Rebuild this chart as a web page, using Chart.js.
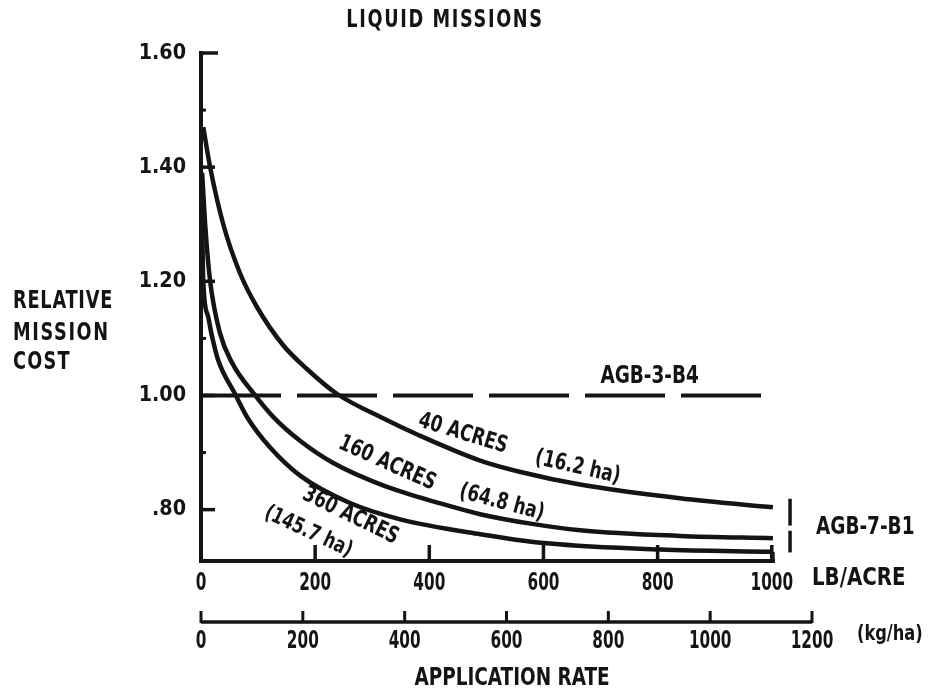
<!DOCTYPE html>
<html>
<head>
<meta charset="utf-8">
<script src="https://cdn.jsdelivr.net/npm/chart.js@4.4.1/dist/chart.umd.min.js"></script>
<style>
  html, body { margin: 0; background: #fff; }
</style>
</head>
<body>
<canvas id="chart" width="934" height="697"></canvas>
<script>
// ticks
const yTickValues = [0.80, 1.00, 1.20, 1.40, 1.60];
const yTickLabels = ['.80', '1.00', '1.20', '1.40', '1.60'];
const yMinorTicks = [0.90, 1.10, 1.30, 1.50];
const lbTicks = [0, 200, 400, 600, 800, 1000];
const kgTicks = [0, 200, 400, 600, 800, 1000, 1200];
const kgPerLb = 1.121;

// relative mission cost vs application rate (lb/acre)
const rate40 = [4, 16, 39, 68, 98, 144, 186, 238, 319, 378, 489, 560, 664, 839, 1002];
const cost40 = [1.470, 1.400, 1.300, 1.215, 1.155, 1.088, 1.046, 1.003, 0.960, 0.932, 0.886, 0.866, 0.844, 0.820, 0.804];
const rate160 = [2, 8, 16, 33, 54, 95, 126, 173, 231, 320, 419, 489, 580, 664, 839, 1002];
const cost160 = [1.390, 1.290, 1.200, 1.110, 1.058, 1.000, 0.963, 0.921, 0.882, 0.842, 0.811, 0.792, 0.775, 0.764, 0.754, 0.750];
const rate360 = [1, 4, 12, 19, 30, 60, 82, 120, 173, 260, 349, 489, 606, 804, 1002];
const cost360 = [1.390, 1.200, 1.140, 1.105, 1.062, 1.002, 0.960, 0.910, 0.860, 0.812, 0.783, 0.757, 0.741, 0.730, 0.726];
const agbRate = [0, 990];
const agbCost = [1.00, 1.00];

const ink = '#141414';
const FONT = "'DejaVu Sans Condensed', 'DejaVu Sans', sans-serif";

const curve = (label, xs, ys, extra) => ({
    label,
    data: xs.map((x, i) => ({ x, y: ys[i] })),
    borderColor: ink, borderWidth: 4.5, pointRadius: 0, fill: false,
    cubicInterpolationMode: 'monotone',
    ...extra
});

// bold, squeezed sideways to look like the condensed lettering of the original
function txt(ctx, s, px, py, size, o = {}) {
    ctx.save();
    ctx.font = `bold ${size}px ${FONT}`;
    ctx.fillStyle = ink;
    ctx.textAlign = o.align || 'center';
    ctx.textBaseline = 'middle';
    if (o.spacing) ctx.letterSpacing = o.spacing + 'px';
    ctx.translate(px, py);
    if (o.rot) ctx.rotate(o.rot * Math.PI / 180);
    ctx.scale(o.sx || 0.82, 1);
    ctx.fillText(s, 0, 0);
    ctx.restore();
}

const axesAndNotes = {
    id: 'axesAndNotes',
    afterDatasetsDraw(chart) {
        const { ctx, scales: { x, x2, y } } = chart;
        const X = v => x.getPixelForValue(v), Y = v => y.getPixelForValue(v);
        const seg = (ax, ay, bx, by, w) => {
            ctx.beginPath(); ctx.lineWidth = w; ctx.moveTo(ax, ay); ctx.lineTo(bx, by); ctx.stroke();
        };
        ctx.save();
        ctx.strokeStyle = ink;
        ctx.lineCap = 'butt';

        // y axis + inward ticks
        const x0 = X(0), yb = y.bottom;
        seg(x0, Y(1.60) - 2, x0, yb + 2, 4);
        yTickValues.forEach(v => seg(x0, Y(v), x0 + (v === 1.60 ? 17 : 14), Y(v), 3.5));
        yMinorTicks.forEach(v => seg(x0, Y(v), x0 + 5, Y(v), 3));

        // lb/acre axis, ticks pointing up, end closed onto 360 curve
        const xEnd = X(rate360[rate360.length - 1]);
        seg(x0 - 2, yb, xEnd + 2, yb, 4);
        lbTicks.slice(1).forEach(v => seg(X(v), yb, X(v), yb - 16, 3.5));
        seg(xEnd, Y(cost360[cost360.length - 1]), xEnd, yb, 3.5);

        // kg/ha axis
        const K = v => x2.getPixelForValue(v), y2 = x2.top;
        seg(K(0), y2, K(1200), y2, 3.5);
        kgTicks.forEach(v => seg(K(v), y2 + 1, K(v), y2 - 11, 3));

        // AGB-7-B1 bracket
        seg(X(1032), Y(0.819), X(1032), Y(0.772), 3.5);
        seg(X(1032), Y(0.763), X(1032), Y(0.725), 3.5);
        ctx.restore();

        // tick labels from the scales' own ticks, in the narrow lettering
        y.ticks.forEach((t, i) => txt(ctx, yTickLabels[i], x0 - 15, Y(t.value), 22, { align: 'right', sx: 0.97 }));
        x.ticks.forEach(t => txt(ctx, String(t.value), X(t.value), x.top + 22, 25, { sx: 0.68 }));
        x2.ticks.forEach(t => txt(ctx, String(t.value), K(t.value), x2.top + 19, 25, { sx: 0.68 }));

        // texts
        txt(ctx, 'LIQUID MISSIONS', 445, 21, 24, { spacing: 2 });
        txt(ctx, 'RELATIVE', 13, 302, 24, { align: 'left', spacing: 1 });
        txt(ctx, 'MISSION', 13, 334, 24, { align: 'left', spacing: 2 });
        txt(ctx, 'COST', 13, 363, 24, { align: 'left', spacing: 1.5 });
        txt(ctx, 'LB/ACRE', 812, 578, 25, { align: 'left', sx: 0.88 });
        txt(ctx, '(kg/ha)', 857, 634, 22, { align: 'left' });
        txt(ctx, 'APPLICATION RATE', 512, 678, 25);
        txt(ctx, 'AGB-3-B4', X(786), Y(1.033), 25);
        txt(ctx, 'AGB-7-B1', 816, 527, 25, { align: 'left' });

        txt(ctx, '40 ACRES', X(459), Y(0.933), 23, { rot: 17 });
        txt(ctx, '(16.2 ha)', X(660), Y(0.874), 23, { rot: 13 });
        txt(ctx, '160 ACRES', X(326), Y(0.881), 23, { rot: 24 });
        txt(ctx, '(64.8 ha)', X(527), Y(0.812), 23, { rot: 15 });
        txt(ctx, '360 ACRES', X(262), Y(0.789), 23, { rot: 26 });
        txt(ctx, '(145.7 ha)', X(188), Y(0.761), 22, { rot: 25 });
    }
};

const hiddenTicks = { display: false, autoSkip: false };

new Chart(document.getElementById('chart'), {
    type: 'line',
    data: {
        datasets: [
            curve('AGB-3-B4', agbRate, agbCost, { borderWidth: 4, borderDash: [80, 16], cubicInterpolationMode: 'default' }),
            curve('40 ACRES', rate40, cost40),
            curve('160 ACRES', rate160, cost160),
            curve('360 ACRES', rate360, cost360)
        ]
    },
    options: {
        responsive: false,
        animation: false,
        devicePixelRatio: 1,
        layout: { padding: { left: 131, right: 122, top: 53, bottom: 35 } },
        plugins: { legend: { display: false }, tooltip: { enabled: false }, title: { display: false } },
        scales: {
            x: {
                type: 'linear', position: 'bottom', weight: 0, min: 0, max: 1200 / kgPerLb,
                grid: { display: false, drawTicks: false }, border: { display: false },
                afterBuildTicks: s => { s.ticks = lbTicks.map(v => ({ value: v })); },
                afterFit: s => { s.height = 61; },
                ticks: hiddenTicks
            },
            x2: {
                type: 'linear', position: 'bottom', weight: 1, min: 0, max: 1200, display: true,
                grid: { display: false, drawTicks: false }, border: { display: false },
                afterBuildTicks: s => { s.ticks = kgTicks.map(v => ({ value: v })); },
                afterFit: s => { s.height = 40; },
                ticks: hiddenTicks
            },
            y: {
                type: 'linear', min: 0.71, max: 1.60,
                grid: { display: false, drawTicks: false }, border: { display: false },
                afterBuildTicks: s => { s.ticks = yTickValues.map(v => ({ value: v })); },
                afterFit: s => { s.width = 70; },
                ticks: hiddenTicks
            }
        }
    },
    plugins: [axesAndNotes]
});
</script>
</body>
</html>
